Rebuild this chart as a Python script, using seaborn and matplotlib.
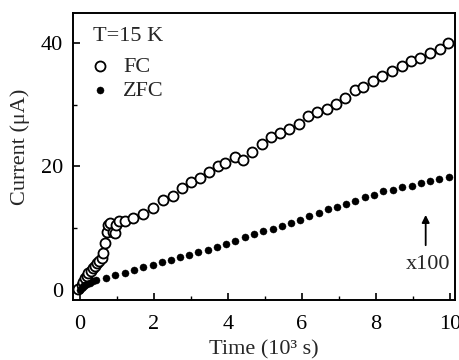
import matplotlib
matplotlib.use("Agg")
import matplotlib.pyplot as plt
from matplotlib.ticker import MultipleLocator
import seaborn as sns
import pandas as pd

fc_time = [-0.04, 0.05, 0.10, 0.14, 0.19, 0.23, 0.30, 0.35, 0.41, 0.46, 0.53, 0.59,
           0.64, 0.67, 0.73, 0.77, 0.82, 0.90, 0.95, 0.99, 1.07, 1.22, 1.45, 1.70,
           1.99, 2.26, 2.51, 2.75, 3.00, 3.25, 3.50, 3.73, 3.92, 4.19, 4.41, 4.64,
           4.92, 5.17, 5.41, 5.66, 5.92, 6.16, 6.40, 6.67, 6.92, 7.17, 7.42, 7.66,
           7.93, 8.17, 8.43, 8.70, 8.94, 9.19, 9.46, 9.73, 9.95]
fc_current = [0.1, 0.8, 1.35, 1.9, 2.3, 2.7, 3.1, 3.5, 3.9, 4.3, 4.7, 5.1,
              6.0, 7.6, 9.4, 10.5, 10.8, 9.4, 9.2, 10.5, 11.1, 11.1, 11.7, 12.3,
              13.2, 14.6, 15.2, 16.5, 17.5, 18.1, 19.1, 20.0, 20.5, 21.5, 21.1, 22.4,
              23.7, 24.7, 25.4, 26.0, 26.9, 28.1, 28.8, 29.3, 30.1, 31.1, 32.3, 32.9,
              33.9, 34.6, 35.5, 36.3, 37.0, 37.6, 38.4, 39.0, 39.95]

zfc_time = [0.0, 0.05, 0.10, 0.15, 0.20, 0.28, 0.36, 0.45, 0.72, 0.95, 1.22, 1.47,
            1.72, 1.97, 2.22, 2.46, 2.71, 2.96, 3.20, 3.46, 3.70, 3.95, 4.20, 4.45,
            4.70, 4.96, 5.21, 5.46, 5.71, 5.95, 6.20, 6.45, 6.70, 6.95, 7.20, 7.44,
            7.71, 7.95, 8.20, 8.46, 8.70, 8.97, 9.22, 9.47, 9.71, 9.98]
zfc_current = [0.0, 0.3, 0.6, 0.8, 1.0, 1.2, 1.4, 1.6, 2.0, 2.4, 2.8, 3.2,
               3.65, 4.05, 4.5, 4.85, 5.3, 5.7, 6.15, 6.5, 7.0, 7.5, 8.0, 8.5,
               9.1, 9.6, 9.9, 10.4, 10.9, 11.4, 11.9, 12.4, 13.1, 13.5, 13.9, 14.4,
               15.0, 15.4, 16.0, 16.2, 16.6, 16.9, 17.3, 17.7, 18.0, 18.3]

x_ticks = [0, 2, 4, 6, 8, 10]
y_ticks = [0, 20, 40]

sns.set_theme(style="ticks")
plt.rcParams["font.family"] = ["Liberation Serif", "DejaVu Serif"]
plt.rcParams["font.size"] = 16

fc_df = pd.DataFrame({"t": fc_time, "I": fc_current})
zfc_df = pd.DataFrame({"t": zfc_time, "I": zfc_current})

fig = plt.figure(figsize=(4.6, 3.6), dpi=100)
ax = fig.add_axes([0.158, 0.167, 0.831, 0.798])

sns.scatterplot(data=fc_df, x="t", y="I", ax=ax, marker="o", s=52,
                facecolor="white", edgecolor="black", linewidth=1.3, label="FC", zorder=3)
sns.scatterplot(data=zfc_df, x="t", y="I", ax=ax, marker="o", s=26,
                color="black", edgecolor="black", linewidth=0.3, label="ZFC", zorder=3)

ax.set_xlim(-0.19, 10.13)
ax.set_ylim(-1.6, 44.9)
ax.set_xticks(x_ticks)
ax.set_yticks(y_ticks)
ax.xaxis.set_minor_locator(MultipleLocator(1))
ax.yaxis.set_minor_locator(MultipleLocator(10))
ax.tick_params(which="both", direction="in", labelsize=16, colors="black")
ax.tick_params(axis="x", pad=11)
ax.tick_params(axis="y", pad=7)
ax.tick_params(which="major", length=5, width=1.2)
ax.tick_params(which="minor", length=3, width=1.0)
for sp in ax.spines.values():
    sp.set_linewidth(1.4)
    sp.set_color("black")

ax.set_xlabel("Time (10\u00b3 s)", fontsize=16)
ax.xaxis.set_label_coords(0.5, -0.14)
ax.set_ylabel("Current (\u03bcA)", fontsize=16)
ax.yaxis.set_label_coords(-0.112, 0.534)

ax.text(0.053, 0.918, "T=15 K", transform=ax.transAxes, ha="left", va="center",
        fontsize=16)
leg = ax.legend(loc="upper left", bbox_to_anchor=(0.037, 0.849), frameon=False,
                fontsize=16, handletextpad=0.44, borderaxespad=0.0, borderpad=0.0,
                labelspacing=0.18, handlelength=1.2)

ax.annotate("", xy=(9.34, 12.6), xytext=(9.34, 6.8),
            arrowprops=dict(arrowstyle="-|>", color="black", lw=1.3,
                            mutation_scale=11))
ax.text(9.41, 4.2, "x100", ha="center", va="center", fontsize=16)

fig.savefig("out.png", dpi=100)
